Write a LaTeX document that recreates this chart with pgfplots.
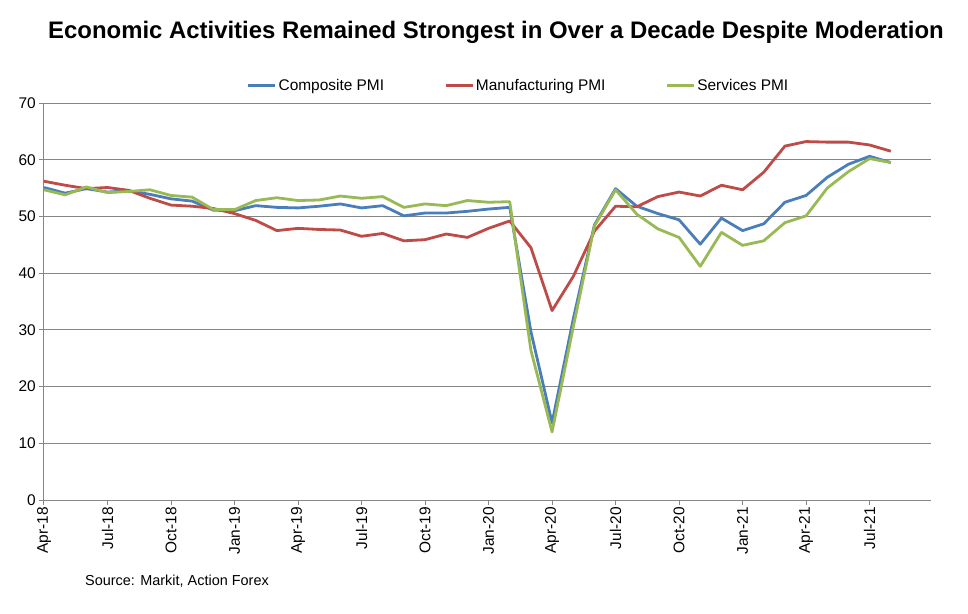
\documentclass[border=0pt]{standalone}
\usepackage{fontspec}
\setmainfont{Liberation Sans}
\usepackage{pgfplots}
\pgfplotsset{compat=1.18}
\definecolor{cblue}{HTML}{4A7EBB}
\definecolor{cred}{HTML}{BE4B48}
\definecolor{cgreen}{HTML}{98B954}
\definecolor{gridgray}{HTML}{868686}

\begin{document}
\begin{tikzpicture}
\useasboundingbox (-44bp,-114bp) rectangle (924bp,500bp);
\begin{axis}[
    at={(0,0)}, anchor=south west,
    scale only axis, width=887bp, height=397bp,
    xmin=0, xmax=41.9, ymin=0, ymax=70,
    axis x line*=bottom, axis y line*=left,
    axis line style={gridgray, line width=1bp},
    ytick={0,10,...,70},
    xtick={0,3,...,39},
    xticklabels={Apr-18,Jul-18,Oct-18,Jan-19,Apr-19,Jul-19,Oct-19,Jan-20,Apr-20,Jul-20,Oct-20,Jan-21,Apr-21,Jul-21},
    x tick label style={rotate=90, anchor=east, inner sep=2bp},
    y tick label style={inner sep=3bp},
    ticklabel style={font=\fontsize{15.5}{18}\selectfont},
    /pgf/number format/assume math mode=true,
    tick align=outside, major tick length=5bp,
    tick style={gridgray, line width=1bp},
    ymajorgrids, grid style={gridgray, line width=1bp},
    legend columns=3,
    legend style={at={(0.535,1.044)}, anchor=center, draw=none, fill=none,
        font=\fontsize{15.5}{18}\selectfont,
        /tikz/every even column/.append style={column sep=58bp}},
    legend image code/.code={\draw[#1] (0bp,0bp) -- (27bp,0bp);},
    every axis plot/.append style={line width=2.8bp, line join=round},
]
\addplot[cblue] coordinates {
(0,55.1)(1,54.1)(2,54.9)(3,54.3)(4,54.5)(5,53.9)(6,53.1)(7,52.7)(8,51.1)(9,51.0)
(10,51.9)(11,51.6)(12,51.5)(13,51.8)(14,52.2)(15,51.5)(16,51.9)(17,50.1)(18,50.6)(19,50.6)
(20,50.9)(21,51.3)(22,51.6)(23,29.7)(24,13.6)(25,31.9)(26,48.5)(27,54.9)(28,51.8)(29,50.5)
(30,49.4)(31,45.1)(32,49.7)(33,47.5)(34,48.7)(35,52.5)(36,53.7)(37,56.9)(38,59.2)(39,60.6)
(40,59.5)};
\addlegendentry{Composite PMI}
\addplot[cred] coordinates {
(0,56.2)(1,55.5)(2,54.9)(3,55.1)(4,54.6)(5,53.2)(6,52.0)(7,51.8)(8,51.4)(9,50.5)
(10,49.3)(11,47.5)(12,47.9)(13,47.7)(14,47.6)(15,46.5)(16,47.0)(17,45.7)(18,45.9)(19,46.9)
(20,46.3)(21,47.9)(22,49.2)(23,44.5)(24,33.4)(25,39.4)(26,47.4)(27,51.8)(28,51.7)(29,53.5)
(30,54.3)(31,53.6)(32,55.5)(33,54.7)(34,57.8)(35,62.4)(36,63.2)(37,63.1)(38,63.1)(39,62.6)
(40,61.5)};
\addlegendentry{Manufacturing PMI}
\addplot[cgreen] coordinates {
(0,54.7)(1,53.8)(2,55.2)(3,54.2)(4,54.4)(5,54.7)(6,53.7)(7,53.4)(8,51.2)(9,51.2)
(10,52.8)(11,53.3)(12,52.8)(13,52.9)(14,53.6)(15,53.2)(16,53.5)(17,51.6)(18,52.2)(19,51.9)
(20,52.8)(21,52.5)(22,52.6)(23,26.4)(24,12.0)(25,30.5)(26,48.3)(27,54.7)(28,50.4)(29,47.8)
(30,46.3)(31,41.2)(32,47.2)(33,44.9)(34,45.7)(35,48.9)(36,50.1)(37,55.0)(38,57.9)(39,60.2)
(40,59.5)};
\addlegendentry{Services PMI}
\end{axis}
\node[font=\bfseries\fontsize{24}{28}\selectfont] at (452bp,468bp)
    {Economic Activities Remained Strongest in Over a Decade Despite Moderation};
\node[anchor=west, font=\fontsize{14.5}{17}\selectfont, inner sep=0pt] at (41bp,-81bp)
    {Source: Markit, Action Forex};
\end{tikzpicture}
\end{document}
